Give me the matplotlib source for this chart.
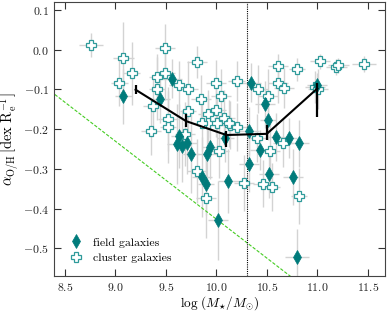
import matplotlib
matplotlib.use("Agg")
import matplotlib.pyplot as plt
import numpy as np

plt.rcParams['font.family'] = 'serif'
plt.rcParams['font.serif'] = ['cmr10']
plt.rcParams['mathtext.fontset'] = 'cm'
plt.rcParams['axes.formatter.use_mathtext'] = True
plt.rcParams['axes.unicode_minus'] = True

# Field galaxies (filled diamonds)
field_x = [9.08, 9.44, 9.56, 9.63, 9.61, 9.66, 9.71, 9.75, 9.91, 9.94, 9.86, 9.90,
           10.02, 10.09, 10.12, 10.34, 10.48, 10.51, 10.32, 10.59, 10.72, 10.82,
           10.43, 10.32, 10.52, 10.76, 10.80, 11.00]
field_y = [-0.118, -0.124, -0.073, -0.217, -0.237, -0.242, -0.234, -0.262, -0.262, -0.246,
           -0.320, -0.337, -0.430, -0.222, -0.330, -0.083, -0.138, -0.177, -0.205, -0.220,
           -0.222, -0.236, -0.252, -0.288, -0.314, -0.320, -0.522, -0.090]
field_xerr = [0.08, 0.10, 0.10, 0.08, 0.10, 0.08, 0.10, 0.08, 0.10, 0.08, 0.10, 0.08,
              0.10, 0.08, 0.10, 0.10, 0.10, 0.08, 0.10, 0.10, 0.08, 0.10,
              0.10, 0.10, 0.10, 0.10, 0.12, 0.10]
field_yerr = [0.07, 0.06, 0.05, 0.08, 0.10, 0.09, 0.08, 0.10, 0.09, 0.08, 0.10, 0.08,
              0.10, 0.06, 0.08, 0.05, 0.06, 0.05, 0.06, 0.06, 0.05, 0.06,
              0.05, 0.07, 0.06, 0.07, 0.07, 0.03]

# Cluster galaxies (open plus markers)
cl_x = [8.76, 9.08, 9.16, 9.04, 9.49, 9.49, 9.41, 9.41, 9.37, 9.35, 9.52, 9.52,
        9.63, 9.72, 9.72, 9.81, 10.00, 10.20, 10.05, 9.85, 9.69, 10.61, 10.80, 11.03,
        11.19, 11.21, 11.46, 10.41, 10.61, 10.67, 10.51, 10.98, 11.01, 10.40, 10.53,
        10.66, 10.27, 10.46, 10.55, 9.90, 10.82, 9.81, 10.03, 10.14,
        9.92, 10.00, 9.92, 10.01, 10.08, 10.13, 9.86, 10.20]
cl_y = [0.012, -0.020, -0.060, -0.083, 0.005, -0.058, -0.070, -0.098, -0.142, -0.205,
        -0.175, -0.195, -0.090, -0.100, -0.155, -0.032, -0.085, -0.080, -0.118, -0.125,
        -0.213, -0.042, -0.050, -0.030, -0.043, -0.040, -0.037, -0.100, -0.085, -0.097,
        -0.118, -0.095, -0.100, -0.222, -0.254, -0.235, -0.335, -0.337, -0.345, -0.373,
        -0.368, -0.305, -0.254, -0.190,
        -0.161, -0.151, -0.184, -0.184, -0.171, -0.186, -0.184, -0.194]
cl_xerr = [0.12, 0.10, 0.08, 0.08, 0.10, 0.10, 0.08, 0.08, 0.10, 0.10, 0.10, 0.08,
           0.10, 0.10, 0.08, 0.10, 0.10, 0.08, 0.10, 0.10, 0.10, 0.10, 0.08, 0.10,
           0.10, 0.10, 0.12, 0.10, 0.10, 0.10, 0.10, 0.10, 0.10, 0.10, 0.10,
           0.10, 0.10, 0.10, 0.08, 0.10, 0.08, 0.10, 0.10, 0.10,
           0.10, 0.10, 0.10, 0.10, 0.10, 0.10, 0.10, 0.10]
cl_yerr = [0.03, 0.09, 0.08, 0.06, 0.06, 0.07, 0.06, 0.08, 0.07, 0.06, 0.08, 0.09,
           0.06, 0.07, 0.06, 0.04, 0.06, 0.05, 0.07, 0.06, 0.08, 0.03, 0.03, 0.02,
           0.02, 0.02, 0.02, 0.06, 0.05, 0.05, 0.07, 0.04, 0.05, 0.06, 0.08,
           0.06, 0.07, 0.06, 0.06, 0.10, 0.07, 0.08, 0.07, 0.06,
           0.06, 0.07, 0.07, 0.06, 0.07, 0.06, 0.07, 0.06]

# Binned median trend
bin_x = [9.2, 9.7, 10.1, 10.5, 11.0]
bin_y = [-0.101, -0.180, -0.215, -0.212, -0.098]
bin_err_lo = [0.011, 0.016, 0.029, 0.016, 0.071]
bin_err_hi = [0.011, 0.018, 0.011, 0.022, 0.015]

# Reference dashed line
ref_x = [8.4, 11.0]
ref_slope = -0.196
ref_intercept = -0.113  # value at x = 8.4
mass_cut = 10.3

teal = '#007b7b'
cross_edge = '#2e9a9a'
errgray = '#d3d3d3'

fig = plt.figure(figsize=(3.9, 3.12), dpi=100)
ax = fig.add_axes([0.138, 0.115, 0.849, 0.879])

ax.errorbar(cl_x, cl_y, xerr=cl_xerr, yerr=cl_yerr, fmt='none', ecolor=errgray,
            elinewidth=1.0, capsize=0, zorder=1)
ax.errorbar(field_x, field_y, xerr=field_xerr, yerr=field_yerr, fmt='none', ecolor=errgray,
            elinewidth=1.0, capsize=0, zorder=1)

ax.plot(cl_x, cl_y, linestyle='none', marker='P', markersize=7, markerfacecolor='white',
        markeredgecolor=cross_edge, markeredgewidth=0.9, zorder=3, label='cluster galaxies')
ax.plot(field_x, field_y, linestyle='none', marker='d', markersize=7, markerfacecolor=teal,
        markeredgecolor=teal, markeredgewidth=0.5, zorder=4, label='field galaxies')

ax.errorbar(bin_x, bin_y, yerr=[bin_err_lo, bin_err_hi], color='black', lw=1.5,
            elinewidth=1.6, capsize=0, zorder=5)

rx = np.array(ref_x)
ax.plot(rx, ref_intercept + ref_slope * (rx - ref_x[0]), color='#44cc22', lw=0.8,
        linestyle=(0, (3, 1.5)), zorder=2)
ax.axvline(mass_cut, color='black', lw=0.8, linestyle=(0, (1, 1)), zorder=2)

ax.set_xlim(8.39, 11.67)
ax.set_ylim(-0.57, 0.12)
ax.set_xticks([8.5, 9.0, 9.5, 10.0, 10.5, 11.0, 11.5])
ax.set_yticks([0.1, 0.0, -0.1, -0.2, -0.3, -0.4, -0.5])
ax.tick_params(direction='in', top=True, right=True, length=5, width=0.8,
               labelsize=8.5, colors='#333333', labelcolor='#222222')
for s in ax.spines.values():
    s.set_color('#444444')
    s.set_linewidth(0.8)

ax.set_xlabel(r'$\log\,(M_{\star}/M_{\odot})$', fontsize=9.5, labelpad=1)
ax.set_ylabel(r'$\alpha_{\rm O/H}\,[{\rm dex\ R_e^{-1}}]$', fontsize=10.5)
ax.yaxis.set_label_coords(-0.1, 0.5)

h, l = ax.get_legend_handles_labels()
ax.legend([h[1], h[0]], [l[1], l[0]], loc='lower left', frameon=False, fontsize=8.5,
          handletextpad=0.6, borderaxespad=0.7, labelspacing=0.45, handlelength=1.6)

fig.savefig('out.png', dpi=100)
